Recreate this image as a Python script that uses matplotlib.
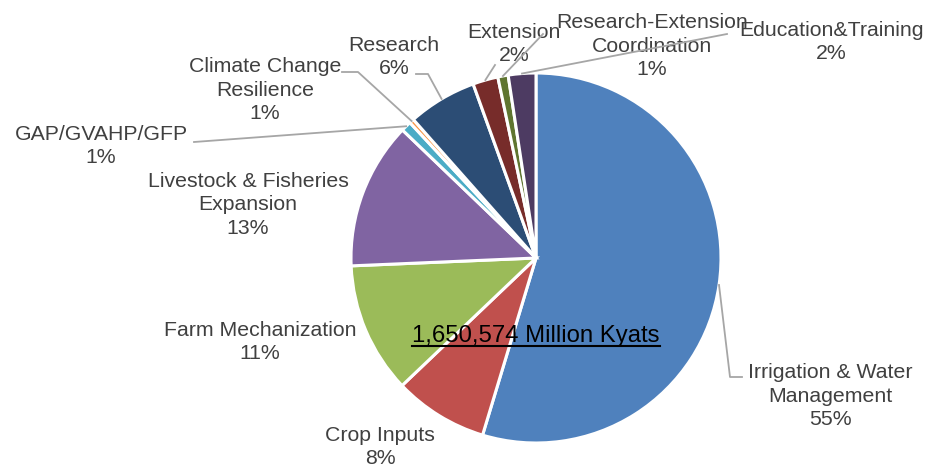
import matplotlib.pyplot as plt
import numpy as np

plt.rcParams['font.family'] = ['Liberation Sans', 'DejaVu Sans']

# share of budget (%), clockwise from 12 o'clock
labels = ['Irrigation & Water\nManagement', 'Crop Inputs', 'Farm Mechanization',
          'Livestock & Fisheries\nExpansion', 'GAP/GVAHP/GFP', 'Climate Change\nResilience',
          'Research', 'Extension', 'Research-Extension\nCoordination', 'Education&Training']
values = [54.5, 8.2, 11.4, 12.8, 0.9, 0.4, 6.0, 2.2, 0.9, 2.4]
pct_text = ['55%', '8%', '11%', '13%', '1%', '1%', '6%', '2%', '1%', '2%']
colors = ['#4F81BD', '#C0504D', '#9BBB59', '#8064A2', '#4BACC6', '#F79646',
          '#2C4D75', '#772C2A', '#5F7530', '#4D3B62']
total_text = '1,650,574 Million Kyats'

# layout in pixels (from top-left of the 925x466 image)
W, H = 925, 466
CX, CY, R = 536, 258, 185
label_pos = [(830, 396), (380, 447), (260, 342), (248, 205), (101, 146),
             (265, 90), (394, 57), (514, 44), (652, 46), (831, 42)]
leader_pts = [[(730, 377), (742, 377)], None, None, None, [(194, 142)],
              [(358, 72), (342, 72)], [(428, 74), (416, 74)], [(495, 65)],
              [(543, 34)], [(727, 34)]]


def px(x, y):
    return (x - CX) / R, (CY - y) / R


fig = plt.figure(figsize=(9.25, 4.66), dpi=100)
ax = fig.add_axes([0, 0, 1, 1])

wedges, _ = ax.pie(values, colors=colors, startangle=90, counterclock=False,
                   radius=1, wedgeprops=dict(edgecolor='white', linewidth=2.2))
ax.set_aspect('auto')
ax.set_xlim(-CX / R, (W - CX) / R)
ax.set_ylim(-(H - CY) / R, CY / R)
ax.axis('off')

tot = sum(values)
cum = np.cumsum([0] + values[:-1])
for i, (lab, pct) in enumerate(zip(labels, pct_text)):
    lx, ly = px(*label_pos[i])
    ax.text(lx, ly, lab + '\n' + pct, ha='center', va='center', fontsize=15.3,
            color='#404040', linespacing=1.32)
    if leader_pts[i]:
        mid = (cum[i] + values[i] / 2) / tot * 2 * np.pi
        xs = [np.sin(mid)]
        ys = [np.cos(mid)]
        for p in leader_pts[i]:
            x, y = px(*p)
            xs.append(x)
            ys.append(y)
        ax.plot(xs, ys, color='#A6A6A6', lw=1.3, zorder=5)

tx, ty = px(536, 336)
t = ax.text(tx, ty, total_text, ha='center', va='center', fontsize=17.2, color='black', zorder=6)
fig.canvas.draw()
bb = t.get_window_extent().transformed(ax.transData.inverted())
uy = ty - (bb.y1 - bb.y0) * 0.45
ax.plot([bb.x0, bb.x1], [uy, uy], color='black', lw=1.5, zorder=6)

fig.savefig('out.png', dpi=100)
